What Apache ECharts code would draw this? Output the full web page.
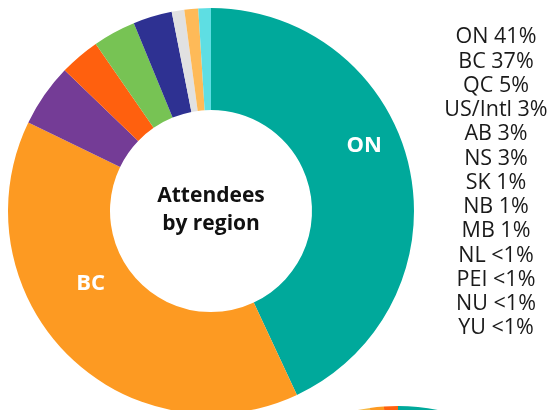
<!DOCTYPE html>
<html>
<head>
    <meta charset="utf-8">
    <title>Attendees by region</title>
    <script src="https://cdn.jsdelivr.net/npm/echarts@6/dist/echarts.min.js"></script>
    <style>
        html, body { margin: 0; padding: 0; background: #fff; }
        #chart { width: 559px; height: 410px; }
    </style>
</head>
<body>
    <div id="chart"></div>
    <script>
        // regions, in slice order
        var regions = ['ON', 'BC', 'QC', 'US/Intl', 'AB', 'NS', 'SK', 'NB', 'MB', 'NL', 'PEI', 'NU', 'YU'];
        // share of attendees
        var shares = [43, 39.1, 5, 3.2, 3.4, 3.1, 1, 1.1, 1, 0, 0, 0, 0];
        // text shown in the list on the right
        var pctLabels = ['41%', '37%', '5%', '3%', '3%', '3%', '1%', '1%', '1%', '<1%', '<1%', '<1%', '<1%'];
        var colors = ['#00a99b', '#fd9a22', '#743c96', '#ff600e', '#77c354', '#2e3192',
            '#e1e1e1', '#feba58', '#5edee3', '#cccccc', '#cccccc', '#cccccc', '#cccccc'];

        // the next chart down the page, only its top edge shows
        var nextShares = [50, 47.8, 1.1, 1.1];
        var nextColors = ['#00a99b', '#f6bb4a', '#fd9a22', '#ff600e'];

        var pieData = [];
        for (var i = 0; i < regions.length; i++) {
            if (shares[i] <= 0) continue;
            pieData.push({
                name: regions[i],
                value: shares[i],
                itemStyle: { color: colors[i] }
            });
        }
        pieData[0].label = { show: true, offset: [2, -32] };
        pieData[1].label = { show: true, offset: [-10, -36] };

        var listLines = regions.map(function(r, i) {
            return r + ' ' + pctLabels[i];
        });

        var chart = echarts.init(document.getElementById('chart'));
        chart.setOption({
            animation: false,
            series: [{
                type: 'pie',
                silent: true,
                center: [211, 211],
                radius: [101, 203],
                startAngle: 90,
                itemStyle: { borderWidth: 0 },
                label: {
                    show: false,
                    position: 'inside',
                    formatter: '{b}',
                    color: '#fff',
                    fontFamily: 'Open Sans',
                    fontWeight: 'bold',
                    fontSize: 22
                },
                labelLine: { show: false },
                data: pieData
            }, {
                type: 'pie',
                silent: true,
                center: [398, 610],
                radius: [101, 204],
                startAngle: 90,
                itemStyle: { borderWidth: 0 },
                label: { show: false },
                labelLine: { show: false },
                data: nextShares.map(function(v, i) {
                    return { value: v, itemStyle: { color: nextColors[i] } };
                })
            }],
            graphic: [{
                type: 'text',
                style: {
                    text: 'Attendees\nby region',
                    x: 211,
                    y: 210,
                    align: 'center',
                    verticalAlign: 'middle',
                    font: 'bold 21px "Open Sans"',
                    lineHeight: 28,
                    fill: '#111'
                }
            }, {
                type: 'text',
                style: {
                    text: listLines.join('\n'),
                    x: 496,
                    y: 25,
                    align: 'center',
                    font: '21.5px "Open Sans"',
                    lineHeight: 24.25,
                    fill: '#1a1a1a'
                }
            }]
        });
    </script>
</body>
</html>
